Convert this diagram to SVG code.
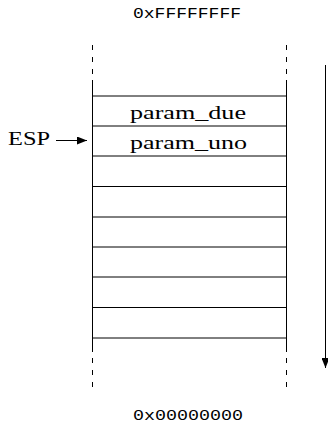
<svg xmlns="http://www.w3.org/2000/svg" width="328" height="425" viewBox="0 0 328 425">
<style>
.ln{stroke:#000;stroke-width:1;fill:none}
.dash{stroke:#000;stroke-width:1;fill:none;stroke-dasharray:5 7}
.tt{font-family:"Liberation Mono","Courier New",monospace;font-size:15px;fill:#000}
.rm{font-family:"Liberation Serif","Times New Roman",serif;font-size:19px;fill:#000}
</style>
<defs>
<marker id="ah" markerWidth="10" markerHeight="8" refX="10" refY="4" orient="auto" markerUnits="userSpaceOnUse">
<path d="M0,0 L10,4 L0,8 Z" fill="#000"/>
</marker>
</defs>
<rect width="328" height="425" fill="#fff"/>
<g id="addr-top"><text class="tt" x="133" y="18" textLength="108" lengthAdjust="spacingAndGlyphs">0xFFFFFFFF</text></g>
<g id="addr-bottom"><text class="tt" x="133" y="420" textLength="110" lengthAdjust="spacingAndGlyphs">0x00000000</text></g>
<g id="stack">
<line class="dash" x1="92.5" y1="45" x2="92.5" y2="80"/>
<line class="dash" x1="286.5" y1="45" x2="286.5" y2="80"/>
<line class="ln" x1="92.5" y1="80" x2="92.5" y2="352"/>
<line class="ln" x1="286.5" y1="80" x2="286.5" y2="352"/>
<line class="dash" x1="92.5" y1="358" x2="92.5" y2="390"/>
<line class="dash" x1="286.5" y1="358" x2="286.5" y2="390"/>
<line class="ln" x1="92.5" y1="96" x2="286.5" y2="96"/>
<line class="ln" x1="92.5" y1="126" x2="286.5" y2="126"/>
<line class="ln" x1="92.5" y1="156" x2="286.5" y2="156"/>
<line class="ln" x1="92.5" y1="186.5" x2="286.5" y2="186.5"/>
<line class="ln" x1="92.5" y1="217" x2="286.5" y2="217"/>
<line class="ln" x1="92.5" y1="247" x2="286.5" y2="247"/>
<line class="ln" x1="92.5" y1="277" x2="286.5" y2="277"/>
<line class="ln" x1="92.5" y1="307.5" x2="286.5" y2="307.5"/>
<line class="ln" x1="92.5" y1="338" x2="286.5" y2="338"/>
</g>
<g id="param-due"><text class="rm" x="130" y="119" textLength="116" lengthAdjust="spacingAndGlyphs">param_due</text></g>
<g id="param-uno"><text class="rm" x="130" y="149" textLength="117" lengthAdjust="spacingAndGlyphs">param_uno</text></g>
<g id="esp"><text class="rm" x="8" y="145" textLength="42" lengthAdjust="spacingAndGlyphs">ESP</text></g>
<g id="connectors">
<line class="ln" x1="56" y1="140.5" x2="87" y2="140.5" marker-end="url(#ah)"/>
<line class="ln" x1="325.5" y1="65" x2="325.5" y2="368" marker-end="url(#ah)"/>
</g>
</svg>
